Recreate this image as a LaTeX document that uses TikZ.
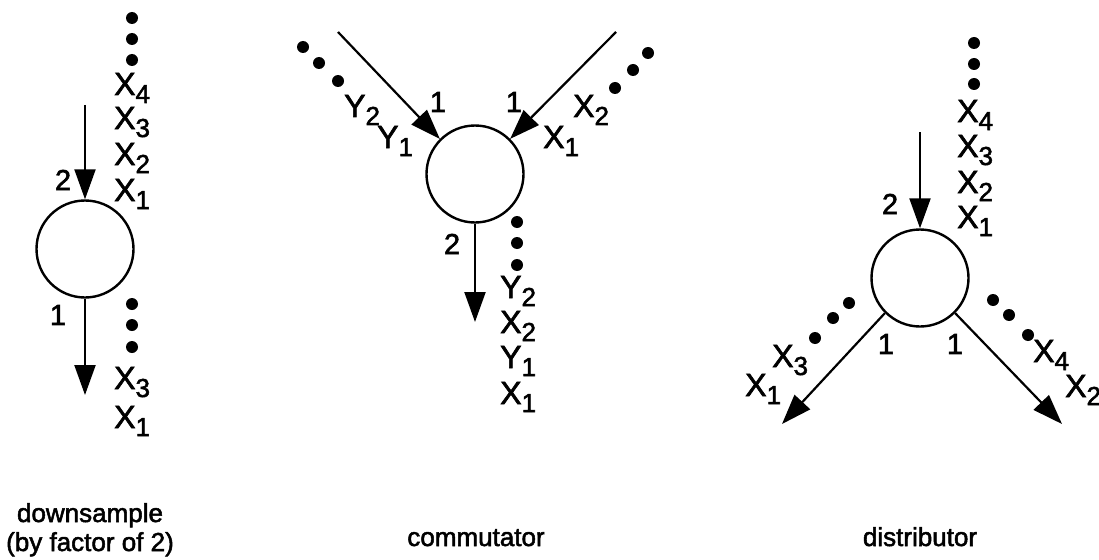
\documentclass[tikz,border=0pt]{standalone}
\usepackage{fontspec}
\setmainfont{Liberation Sans}
\newfontfamily\heavy{Liberation Sans}[FakeBold=2]
\usetikzlibrary{arrows.meta}
\newcommand\xsub[2]{#1\raisebox{-8pt}{\fontsize{26}{26}\selectfont #2}}
\tikzset{
  circ/.style={circle, draw, line width=2.4pt, minimum size=97pt, inner sep=0pt},
  arr/.style={line width=2.2pt, -{Triangle[length=30pt,width=21pt]}},
  lab/.style={inner sep=0pt, anchor=base west, font=\heavy\fontsize{32}{32}\selectfont},
  num/.style={inner sep=0pt, font=\heavy\fontsize{29}{29}\selectfont},
  ttl/.style={inner sep=0pt, anchor=base, font=\heavy\fontsize{26}{26}\selectfont},
  dotr/.style={fill=black}
}
\begin{document}
\begin{tikzpicture}[x=1pt,y=-1pt]
\useasboundingbox (0,0) rectangle (1099,559);
% ---------- downsample ----------
\node[circ] (d) at (85,249) {};
\coordinate (dIn) at (85,105);
\coordinate (dOut) at (85,395);
\draw[arr] (dIn) -- (d.north);
\draw[arr] (d.south) -- (dOut);
\node[num] (dn2) at (63,180) {2};
\node[num] (dn1) at (58,315) {1};
\foreach \y in {18,39,60,304,325,347} \fill[dotr] (132,\y) circle (6);
\node[lab] (dx4) at (114,95) {\xsub{X}{4}};
\node[lab] (dx3) at (114,129) {\xsub{X}{3}};
\node[lab] (dx2) at (114,165) {\xsub{X}{2}};
\node[lab] (dx1) at (114,201) {\xsub{X}{1}};
\node[lab] (dox3) at (114,389) {\xsub{X}{3}};
\node[lab] (dox1) at (114,428) {\xsub{X}{1}};
\node[ttl] (dt1) at (90,522) {downsample};
\node[ttl] (dt2) at (90,551) {(by factor of 2)};
% ---------- commutator ----------
\node[circ] (c) at (475,174) {};
\coordinate (cInL) at (338,32);
\coordinate (cInR) at (616,32);
\coordinate (cOut) at (475,322);
\draw[arr] (cInL) -- (c.135);
\draw[arr] (cInR) -- (c.45);
\draw[arr] (c.south) -- (cOut);
\node[num] (cn1a) at (438,102) {1};
\node[num] (cn1b) at (514,102) {1};
\node[num] (cn2) at (452,244) {2};
\foreach \x/\y in {303/47,319/63,338/81,648/53,633/70,615/88,517/222,517/243,517/265} \fill[dotr] (\x,\y) circle (6);
\node[lab] (cy2) at (344,117) {\xsub{Y}{2}};
\node[lab] (cy1) at (377,148) {\xsub{Y}{1}};
\node[lab] (cx2) at (573,117) {\xsub{X}{2}};
\node[lab] (cx1) at (543,148) {\xsub{X}{1}};
\node[lab] (coy2) at (500,298) {\xsub{Y}{2}};
\node[lab] (cox2) at (500,333) {\xsub{X}{2}};
\node[lab] (coy1) at (500,368) {\xsub{Y}{1}};
\node[lab] (cox1) at (500,404) {\xsub{X}{1}};
\node[ttl] (ct) at (476,546) {commutator};
% ---------- distributor ----------
\node[circ] (t) at (920,278) {};
\coordinate (tIn) at (920,132);
\coordinate (tOutL) at (782,424);
\coordinate (tOutR) at (1062,424);
\draw[arr] (tIn) -- (t.north);
\draw[arr] (t.225) -- (tOutL);
\draw[arr] (t.315) -- (tOutR);
\node[num] (tn2) at (890,204) {2};
\node[num] (tn1a) at (886,344) {1};
\node[num] (tn1b) at (955,344) {1};
\foreach \x/\y in {974/43,974/64,974/84,849/303,833/318,815/338,993/300,1009/315,1028/335} \fill[dotr] (\x,\y) circle (6);
\node[lab] (tx4) at (957,122) {\xsub{X}{4}};
\node[lab] (tx3) at (957,157) {\xsub{X}{3}};
\node[lab] (tx2) at (957,193) {\xsub{X}{2}};
\node[lab] (tx1) at (957,228) {\xsub{X}{1}};
\node[lab] (tlx3) at (772,367) {\xsub{X}{3}};
\node[lab] (tlx1) at (745,396) {\xsub{X}{1}};
\node[lab] (trx4) at (1033,362) {\xsub{X}{4}};
\node[lab] (trx2) at (1065,397) {\xsub{X}{2}};
\node[ttl] (tt) at (920,546) {distributor};
\end{tikzpicture}
\end{document}
